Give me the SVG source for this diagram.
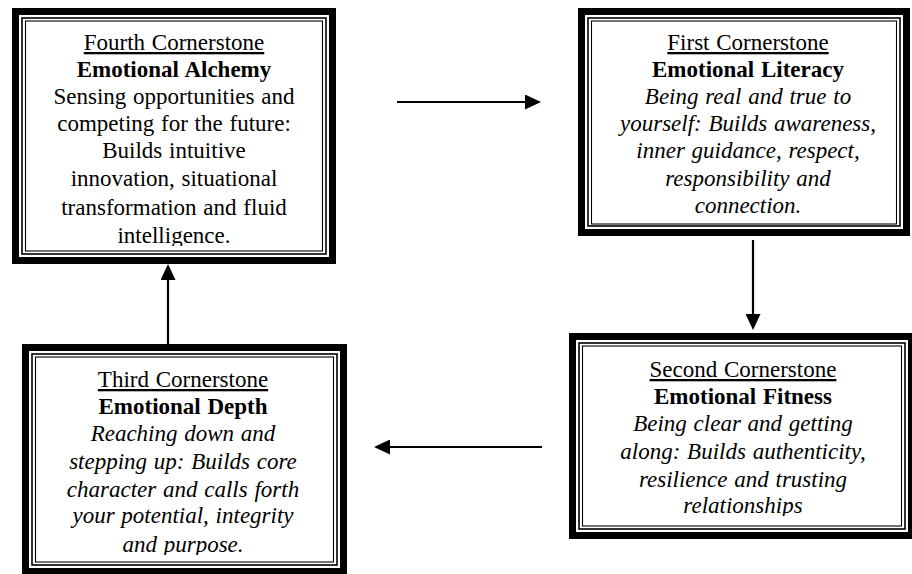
<svg xmlns="http://www.w3.org/2000/svg" width="912" height="574" viewBox="0 0 912 574">
<style>
.thick{fill:none;stroke:#000;stroke-width:7}
.thin1{fill:none;stroke:#000;stroke-width:1.6}
.thin2{fill:none;stroke:#000;stroke-width:1.1}
.txt text{font-family:"Liberation Serif","Times New Roman",serif;font-size:23px;word-spacing:1px;fill:#000;text-anchor:middle}
.t{text-decoration:underline}
.b{font-weight:bold}
.i{font-style:italic}
.conn{stroke:#000;stroke-width:2.2;fill:none;marker-end:url(#ah)}
</style>
<defs>
<marker id="ah" markerUnits="userSpaceOnUse" markerWidth="17" markerHeight="15" viewBox="0 0 17 15" refX="1" refY="7.5" orient="auto">
<path d="M0,0 L16,7.5 L0,15 z" fill="#000"/>
</marker>
<clipPath id="c1"><rect x="26" y="22" width="296" height="224"/></clipPath>
<clipPath id="c2"><rect x="592" y="22" width="305" height="191.5"/></clipPath>
<clipPath id="c3"><rect x="583" y="347" width="315" height="169"/></clipPath>
<clipPath id="c4"><rect x="36" y="358" width="297" height="197"/></clipPath>
</defs>
<rect width="912" height="574" fill="#fff"/>

<g id="fourth">
<rect class="thick" x="15.5" y="11.5" width="317" height="249"/>
<rect class="thin1" x="22" y="18" width="304" height="236"/>
<rect class="thin2" x="25.5" y="21" width="297" height="230"/>
<g clip-path="url(#c1)" class="txt">
<text x="174" y="50" class="t">Fourth Cornerstone</text>
<text x="174" y="77" class="b">Emotional Alchemy</text>
<text x="174" y="104">Sensing opportunities and</text>
<text x="174" y="131">competing for the future:</text>
<text x="174" y="158">Builds intuitive</text>
<text x="174" y="186">innovation, situational</text>
<text x="174" y="215">transformation and fluid</text>
<text x="174" y="243">intelligence.</text>
</g>
</g>

<g id="first">
<rect class="thick" x="581.5" y="11.5" width="325" height="221"/>
<rect class="thin1" x="588" y="18" width="312" height="208"/>
<rect class="thin2" x="591.5" y="21" width="305" height="203"/>
<g clip-path="url(#c2)" class="txt">
<text x="748" y="50" class="t">First Cornerstone</text>
<text x="748" y="77" class="b">Emotional Literacy</text>
<text x="748" y="104" class="i">Being real and true to</text>
<text x="748" y="131" class="i">yourself: Builds awareness,</text>
<text x="748" y="158" class="i">inner guidance, respect,</text>
<text x="748" y="186" class="i">responsibility and</text>
<text x="748" y="213" class="i">connection.</text>
</g>
</g>

<g id="second">
<rect class="thick" x="572.5" y="336.5" width="339" height="199"/>
<rect class="thin1" x="579" y="343" width="326" height="186"/>
<rect class="thin2" x="582.5" y="346" width="319" height="180"/>
<g clip-path="url(#c3)" class="txt">
<text x="743" y="377" class="t">Second Cornerstone</text>
<text x="743" y="404" class="b">Emotional Fitness</text>
<text x="743" y="431" class="i">Being clear and getting</text>
<text x="743" y="459" class="i">along: Builds authenticity,</text>
<text x="743" y="487" class="i">resilience and trusting</text>
<text x="743" y="513" class="i">relationships</text>
</g>
</g>

<g id="third">
<rect class="thick" x="25.5" y="347.5" width="318" height="224"/>
<rect class="thin1" x="32" y="354" width="305" height="211"/>
<rect class="thin2" x="35.5" y="357" width="298" height="205"/>
<g clip-path="url(#c4)" class="txt">
<text x="183" y="387" class="t">Third Cornerstone</text>
<text x="183" y="414" class="b">Emotional Depth</text>
<text x="183" y="441" class="i">Reaching down and</text>
<text x="183" y="469" class="i">stepping up: Builds core</text>
<text x="183" y="497" class="i">character and calls forth</text>
<text x="183" y="523" class="i">your potential, integrity</text>
<text x="183" y="552" class="i">and purpose.</text>
</g>
</g>

<g id="connectors">
<line class="conn" x1="397" y1="102" x2="526" y2="102"/>
<line class="conn" x1="753" y1="240" x2="753" y2="315"/>
<line class="conn" x1="542" y1="447" x2="389" y2="447"/>
<line class="conn" x1="168" y1="344" x2="168" y2="279"/>
</g>
</svg>
